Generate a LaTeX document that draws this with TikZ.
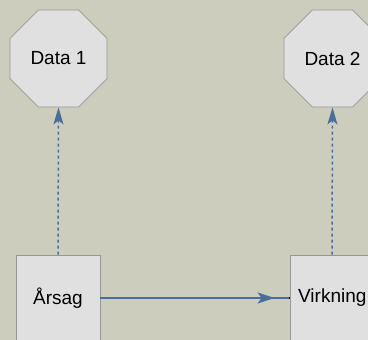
\documentclass[tikz,border=0pt]{standalone}
\usepackage{fontspec}
\setmainfont{Liberation Sans}
\usetikzlibrary{shapes.geometric,arrows.meta}
\definecolor{bg}{RGB}{204,205,188}
\definecolor{nodefill}{RGB}{224,224,224}
\definecolor{nodeline}{RGB}{150,150,150}
\definecolor{arrowc}{RGB}{74,110,155}
\tikzset{
  octa/.style={regular polygon, regular polygon sides=8, minimum size=105pt, inner sep=0pt,
    fill=nodefill, draw=nodeline, line width=0.8pt, font=\fontsize{19}{23}\selectfont},
  boxnode/.style={rectangle, minimum width=84pt, minimum height=86pt, inner sep=0pt,
    fill=nodefill, draw=nodeline, line width=0.8pt, font=\fontsize{19}{23}\selectfont},
  dotarrow/.style={draw=arrowc, line width=1.5pt, dash pattern=on 3pt off 3pt,
    -{Stealth[length=17pt,width=10pt,inset=4pt]}},
  solidline/.style={draw=arrowc, line width=1.8pt},
  soltip/.style={draw=arrowc, line width=1.8pt, -{Stealth[length=17pt,width=11pt,inset=4pt]}}
}
\begin{document}
\begin{tikzpicture}[x=1pt,y=-1pt]
\fill[bg] (0,0) rectangle (368,340);
\useasboundingbox (0,0) rectangle (368,340);
\node[octa] (d1) at (58.5,58.5) {Data 1};
\node[octa] (d2) at (332.5,58.5) {Data 2};
\node[boxnode] (a) at (58,298) {};
\node[boxnode] (v) at (332,298) {};
\draw[solidline] (a.east) -- (v.west);
\draw[soltip] (a.east) -- ([xshift=-15pt]v.west);
\draw[line width=1.8pt, black] ([xshift=-1pt]v.west) -- (v.west);
\node[font=\fontsize{19}{23}\selectfont] at (a) {Årsag};
\node[font=\fontsize{19}{23}\selectfont, anchor=west] at ([xshift=5pt]v.west) {Virkning};
\draw[dotarrow] (a.north) -- (d1.south);
\draw[dotarrow] (v.north) -- (d2.south);
\end{tikzpicture}
\end{document}
